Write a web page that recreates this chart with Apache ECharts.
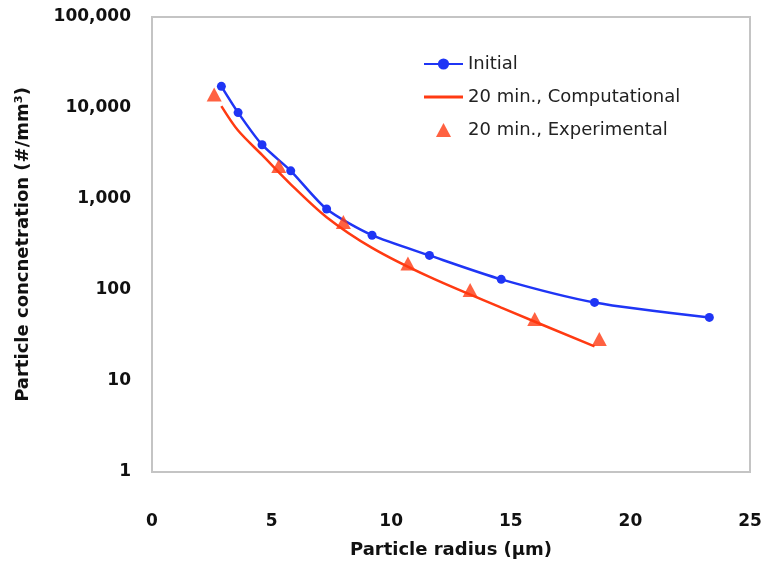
<!DOCTYPE html>
<html>
<head>
<meta charset="utf-8">
<script src="https://cdn.jsdelivr.net/npm/echarts@6/dist/echarts.min.js"></script>
<style>html,body{margin:0;padding:0;background:#fff;}#chart{width:766px;height:562px;}</style>
</head>
<body>
<div id="chart"></div>
<script>
// Initial distribution
const radiusInitial = [2.9, 3.6, 4.6, 5.8, 7.3, 9.2, 11.6, 14.6, 18.5, 23.3];
const concInitial   = [17300, 8900, 3950, 2040, 776, 400, 240, 131, 73, 50];
// 20 min., Computational
const radiusComp = [2.9, 3.6, 4.6, 5.8, 7.3, 9.2, 11.6, 14.6, 18.5];
const concComp   = [10500, 5650, 3050, 1450, 630, 290, 139, 64, 24];
// 20 min., Experimental
const radiusExp = [2.6, 5.3, 8.0, 10.7, 13.3, 16.0, 18.7];
const concExp   = [14100, 2300, 560, 195, 100, 48, 29];

const seriesNames = ['Initial', '20 min., Computational', '20 min., Experimental'];
const xTitle = 'Particle radius (\u03bcm)';
const yTitle = 'Particle concnetration (#/mm\u00b3)';

const zip = (a, b) => a.map((v, i) => [v, b[i]]);
const font = '"DejaVu Sans", "Liberation Sans", Arial, sans-serif';
const blue = '#1f35f5';
const red = '#ff3a12';

const chart = echarts.init(document.getElementById('chart'), null, {renderer: 'canvas'});
chart.setOption({
  animation: false,
  backgroundColor: '#fff',
  grid: {left: 152, right: 16, top: 17, bottom: 90, containLabel: false, outerBoundsMode: 'none',
    show: true, borderColor: '#c4c4c4', borderWidth: 2, backgroundColor: 'transparent'},
  legend: {
    orient: 'vertical', left: 418, top: 50,
    itemWidth: 39, itemHeight: 14, itemGap: 15,
    symbolKeepAspect: true,
    textStyle: {fontFamily: font, fontSize: 18, lineHeight: 18, color: '#222'},
    data: [
      {name: seriesNames[0]},
      {name: seriesNames[1], icon: 'path://M0,0H40V3H0Z'},
      {name: seriesNames[2], icon: 'path://M7,0L14,13L0,13Z'}
    ]
  },
  xAxis: {
    type: 'value', min: 0, max: 25, interval: 5,
    name: xTitle, nameLocation: 'middle', nameGap: 69,
    nameTextStyle: {fontFamily: font, fontSize: 18, fontWeight: 'bold', color: '#111'},
    axisLine: {show: false}, axisTick: {show: false}, splitLine: {show: false},
    axisLabel: {margin: 41, fontFamily: font, fontSize: 17, fontWeight: 'bold', color: '#111'}
  },
  yAxis: {
    type: 'log', logBase: 10, min: 1, max: 100000,
    name: yTitle, nameLocation: 'middle', nameGap: 120,
    nameTextStyle: {fontFamily: font, fontSize: 18, fontWeight: 'bold', color: '#111'},
    axisLine: {show: false}, axisTick: {show: false}, splitLine: {show: false},
    axisLabel: {margin: 21, fontFamily: font, fontSize: 17, fontWeight: 'bold', color: '#111',
      formatter: v => Number(v).toLocaleString('en-US')}
  },
  series: [
    {
      name: seriesNames[0], type: 'line', data: zip(radiusInitial, concInitial),
      smooth: 0.25, symbol: 'circle', symbolSize: 9,
      lineStyle: {color: blue, width: 2.5}, itemStyle: {color: blue}, z: 3
    },
    {
      name: seriesNames[1], type: 'line', data: zip(radiusComp, concComp),
      smooth: 0.3, symbol: 'none', showSymbol: false,
      lineStyle: {color: red, width: 2.5}, itemStyle: {color: red}, z: 2
    },
    {
      name: seriesNames[2], type: 'scatter', data: zip(radiusExp, concExp),
      symbol: 'triangle', symbolSize: [15, 14],
      itemStyle: {color: red}, z: 4
    }
  ]
});
</script>
</body>
</html>
